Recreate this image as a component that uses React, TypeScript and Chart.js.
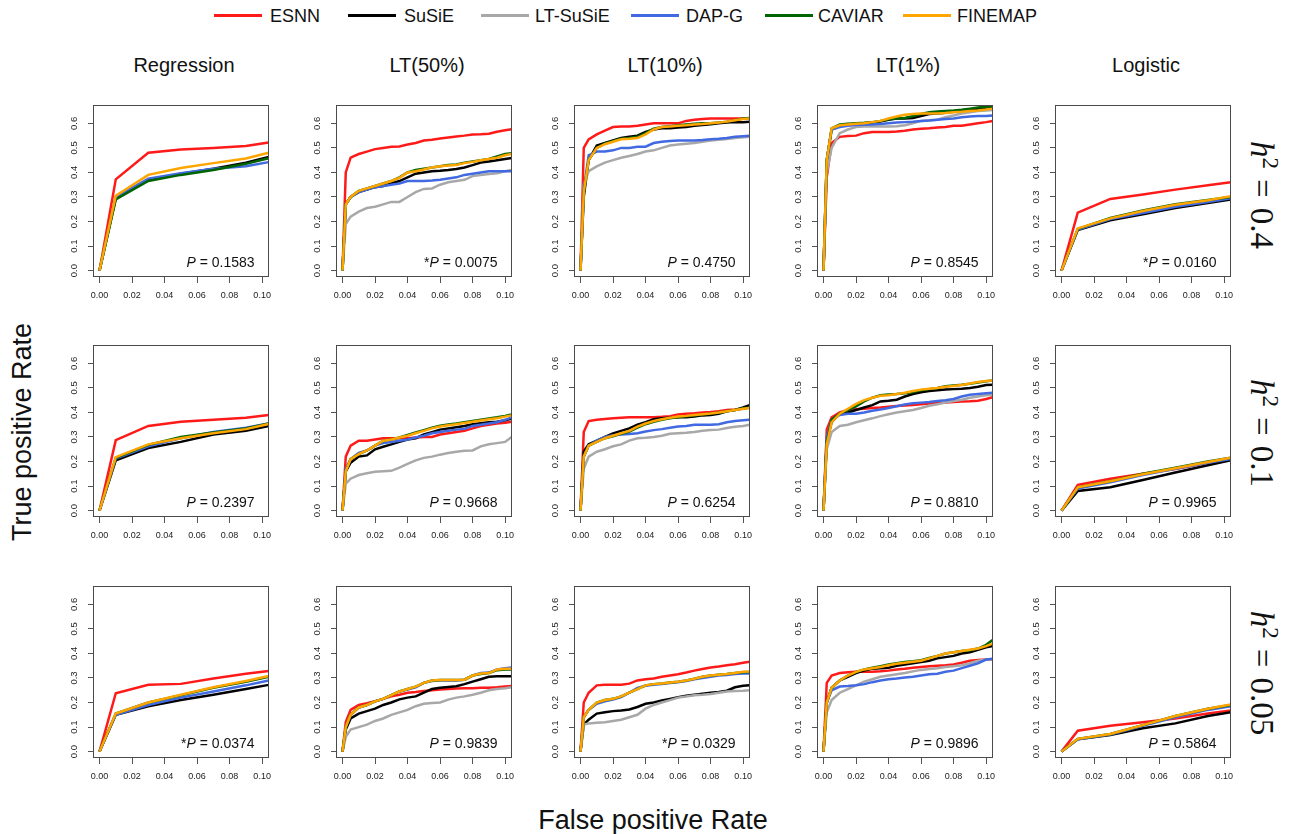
import React, { useEffect, useRef } from "react";
import { Chart, registerables } from "chart.js";
Chart.register(...registerables);

// ---------- data ----------
const methods = ["ESNN", "SuSiE", "LT-SuSiE", "DAP-G", "CAVIAR", "FINEMAP"];
const methodColors = ["#ff1a1a", "#000000", "#a8a8a8", "#4169e1", "#006400", "#ffa500"];
const columnTitles = ["Regression", "LT(50%)", "LT(10%)", "LT(1%)", "Logistic"];
const heritabilities = ["0.4", "0.1", "0.05"];
const xTickValues = [0, 0.02, 0.04, 0.06, 0.08, 0.1];
const yTickValues = [0, 0.1, 0.2, 0.3, 0.4, 0.5, 0.6];
const fprCoarse = [0, 0.01, 0.03, 0.05, 0.07, 0.09, 0.104];
const fprFine = [0, 0.002, 0.005, 0.01, 0.015, 0.02, 0.025, 0.03, 0.035, 0.04, 0.045, 0.05, 0.055, 0.06, 0.065, 0.07, 0.075, 0.08, 0.085, 0.09, 0.095, 0.1, 0.104];
const pValueText = [
  ["0.1583", "0.0075", "0.4750", "0.8545", "0.0160"],
  ["0.2397", "0.9668", "0.6254", "0.8810", "0.9965"],
  ["0.0374", "0.9839", "0.0329", "0.9896", "0.5864"],
];
const pSignificant = [
  [false, true, false, false, true],
  [false, false, false, false, false],
  [true, false, true, false, false],
];

// series order: ESNN, SuSiE, LT-SuSiE, DAP-G, CAVIAR, FINEMAP
const tpr_h04_regression = [
  [0, 0.372, 0.48, 0.493, 0.5, 0.508, 0.522],
  [0, 0.295, 0.37, 0.395, 0.415, 0.44, 0.463],
  [],
  [0, 0.3, 0.375, 0.397, 0.415, 0.425, 0.442],
  [0, 0.29, 0.365, 0.39, 0.41, 0.435, 0.458],
  [0, 0.305, 0.39, 0.418, 0.438, 0.457, 0.48],
];
const tpr_h04_lt50 = [
  [0, 0.4, 0.46, 0.475, 0.485, 0.495, 0.5, 0.505, 0.506, 0.514, 0.52, 0.53, 0.533, 0.538, 0.542, 0.546, 0.55, 0.555, 0.556, 0.558, 0.566, 0.572, 0.576],
  [0, 0.27, 0.3, 0.32, 0.33, 0.34, 0.345, 0.355, 0.365, 0.38, 0.395, 0.4, 0.405, 0.407, 0.41, 0.414, 0.42, 0.43, 0.44, 0.445, 0.45, 0.455, 0.459],
  [0, 0.19, 0.22, 0.24, 0.255, 0.26, 0.27, 0.28, 0.28, 0.3, 0.32, 0.333, 0.335, 0.35, 0.36, 0.365, 0.37, 0.385, 0.39, 0.394, 0.397, 0.405, 0.41],
  [0, 0.27, 0.3, 0.32, 0.33, 0.34, 0.345, 0.35, 0.355, 0.365, 0.365, 0.365, 0.367, 0.37, 0.375, 0.38, 0.39, 0.395, 0.4, 0.405, 0.405, 0.405, 0.405],
  [0, 0.27, 0.3, 0.325, 0.335, 0.345, 0.355, 0.365, 0.38, 0.4, 0.41, 0.415, 0.42, 0.425, 0.43, 0.432, 0.44, 0.445, 0.45, 0.455, 0.465, 0.475, 0.478],
  [0, 0.27, 0.3, 0.325, 0.335, 0.345, 0.355, 0.365, 0.378, 0.4, 0.405, 0.412, 0.42, 0.425, 0.428, 0.43, 0.438, 0.443, 0.45, 0.455, 0.46, 0.47, 0.475],
];
const tpr_h04_lt10 = [
  [0, 0.5, 0.535, 0.555, 0.57, 0.585, 0.587, 0.587, 0.59, 0.595, 0.6, 0.6, 0.6, 0.6, 0.61, 0.615, 0.618, 0.62, 0.62, 0.62, 0.62, 0.62, 0.62],
  [0, 0.3, 0.45, 0.51, 0.52, 0.53, 0.54, 0.545, 0.55, 0.565, 0.575, 0.58, 0.58, 0.583, 0.585, 0.59, 0.593, 0.596, 0.6, 0.603, 0.605, 0.605, 0.607],
  [0, 0.35, 0.405, 0.425, 0.44, 0.45, 0.46, 0.467, 0.475, 0.485, 0.49, 0.5, 0.51, 0.514, 0.517, 0.52, 0.525, 0.53, 0.533, 0.536, 0.54, 0.543, 0.545],
  [0, 0.33, 0.47, 0.485, 0.485, 0.49, 0.5, 0.5, 0.505, 0.505, 0.52, 0.525, 0.528, 0.53, 0.53, 0.53, 0.532, 0.535, 0.537, 0.54, 0.545, 0.547, 0.549],
  [0, 0.32, 0.45, 0.5, 0.517, 0.528, 0.537, 0.54, 0.545, 0.56, 0.578, 0.585, 0.588, 0.592, 0.595, 0.598, 0.6, 0.6, 0.603, 0.607, 0.613, 0.62, 0.622],
  [0, 0.32, 0.45, 0.5, 0.515, 0.525, 0.535, 0.537, 0.54, 0.555, 0.575, 0.585, 0.587, 0.59, 0.592, 0.595, 0.597, 0.6, 0.603, 0.607, 0.613, 0.618, 0.62],
];
const tpr_h04_lt1 = [
  [0, 0.38, 0.52, 0.545, 0.548, 0.55, 0.56, 0.565, 0.565, 0.565, 0.567, 0.57, 0.575, 0.578, 0.58, 0.583, 0.585, 0.59, 0.59, 0.595, 0.6, 0.605, 0.61],
  [0, 0.45, 0.575, 0.59, 0.595, 0.598, 0.6, 0.603, 0.607, 0.615, 0.62, 0.62, 0.622, 0.63, 0.638, 0.64, 0.643, 0.647, 0.65, 0.655, 0.66, 0.665, 0.667],
  [0, 0.4, 0.5, 0.56, 0.575, 0.585, 0.587, 0.587, 0.587, 0.587, 0.588, 0.592, 0.6, 0.61, 0.613, 0.615, 0.625, 0.632, 0.64, 0.645, 0.65, 0.652, 0.654],
  [0, 0.45, 0.575, 0.585, 0.59, 0.593, 0.594, 0.595, 0.597, 0.6, 0.603, 0.605, 0.607, 0.61, 0.612, 0.615, 0.618, 0.62, 0.625, 0.628, 0.63, 0.63, 0.632],
  [0, 0.45, 0.58, 0.595, 0.598, 0.6, 0.602, 0.605, 0.61, 0.617, 0.62, 0.622, 0.63, 0.638, 0.645, 0.648, 0.65, 0.652, 0.655, 0.66, 0.665, 0.668, 0.67],
  [0, 0.45, 0.58, 0.592, 0.595, 0.598, 0.6, 0.605, 0.61, 0.62, 0.628, 0.635, 0.638, 0.64, 0.64, 0.64, 0.642, 0.645, 0.647, 0.65, 0.652, 0.656, 0.66],
];
const tpr_h04_logistic = [
  [0, 0.236, 0.292, 0.31, 0.33, 0.348, 0.36],
  [0, 0.165, 0.205, 0.23, 0.255, 0.275, 0.29],
  [],
  [0, 0.167, 0.21, 0.235, 0.26, 0.28, 0.295],
  [0, 0.17, 0.215, 0.245, 0.27, 0.288, 0.3],
  [0, 0.172, 0.213, 0.243, 0.268, 0.287, 0.303],
];
const tpr_h01_regression = [
  [0, 0.287, 0.345, 0.362, 0.37, 0.378, 0.39],
  [0, 0.205, 0.255, 0.28, 0.31, 0.325, 0.345],
  [],
  [0, 0.212, 0.262, 0.295, 0.32, 0.338, 0.355],
  [0, 0.215, 0.268, 0.3, 0.318, 0.335, 0.355],
  [0, 0.218, 0.27, 0.295, 0.315, 0.332, 0.353],
];
const tpr_h01_lt50 = [
  [0, 0.22, 0.265, 0.285, 0.285, 0.29, 0.295, 0.295, 0.295, 0.295, 0.298, 0.3, 0.3, 0.31, 0.315, 0.32, 0.325, 0.335, 0.345, 0.35, 0.355, 0.358, 0.362],
  [0, 0.16, 0.195, 0.22, 0.225, 0.25, 0.26, 0.27, 0.28, 0.29, 0.295, 0.31, 0.32, 0.33, 0.335, 0.34, 0.345, 0.352, 0.356, 0.36, 0.362, 0.368, 0.375],
  [0, 0.11, 0.13, 0.145, 0.152, 0.158, 0.16, 0.162, 0.175, 0.19, 0.205, 0.215, 0.22, 0.228, 0.235, 0.24, 0.244, 0.245, 0.262, 0.27, 0.275, 0.28, 0.3],
  [0, 0.17, 0.21, 0.235, 0.245, 0.265, 0.275, 0.28, 0.285, 0.29, 0.298, 0.305, 0.315, 0.32, 0.325, 0.33, 0.333, 0.345, 0.35, 0.355, 0.36, 0.37, 0.38],
  [0, 0.16, 0.21, 0.23, 0.245, 0.265, 0.285, 0.29, 0.298, 0.308, 0.318, 0.328, 0.338, 0.346, 0.351, 0.355, 0.36, 0.365, 0.37, 0.375, 0.38, 0.386, 0.392],
  [0, 0.16, 0.21, 0.23, 0.245, 0.265, 0.285, 0.29, 0.298, 0.305, 0.315, 0.325, 0.335, 0.343, 0.348, 0.352, 0.357, 0.362, 0.367, 0.372, 0.376, 0.383, 0.388],
];
const tpr_h01_lt10 = [
  [0, 0.32, 0.365, 0.37, 0.373, 0.376, 0.378, 0.38, 0.38, 0.38, 0.38, 0.382, 0.385, 0.392, 0.395, 0.397, 0.4, 0.402, 0.405, 0.41, 0.412, 0.415, 0.42],
  [0, 0.24, 0.27, 0.285, 0.3, 0.315, 0.325, 0.335, 0.35, 0.36, 0.372, 0.376, 0.378, 0.38, 0.38, 0.383, 0.388, 0.39, 0.395, 0.405, 0.41, 0.42, 0.43],
  [0, 0.17, 0.22, 0.24, 0.25, 0.262, 0.27, 0.285, 0.295, 0.297, 0.3, 0.305, 0.313, 0.315, 0.317, 0.32, 0.325, 0.328, 0.33, 0.337, 0.342, 0.345, 0.35],
  [0, 0.22, 0.265, 0.285, 0.3, 0.307, 0.31, 0.312, 0.315, 0.322, 0.328, 0.332, 0.338, 0.343, 0.345, 0.35, 0.35, 0.35, 0.352, 0.36, 0.365, 0.368, 0.37],
  [0, 0.22, 0.265, 0.28, 0.295, 0.303, 0.313, 0.322, 0.338, 0.352, 0.362, 0.37, 0.376, 0.38, 0.384, 0.388, 0.392, 0.396, 0.4, 0.405, 0.41, 0.417, 0.42],
  [0, 0.22, 0.265, 0.28, 0.295, 0.305, 0.315, 0.325, 0.342, 0.355, 0.365, 0.372, 0.378, 0.383, 0.386, 0.39, 0.393, 0.396, 0.4, 0.405, 0.41, 0.415, 0.418],
];
const tpr_h01_lt1 = [
  [0, 0.33, 0.38, 0.4, 0.41, 0.413, 0.415, 0.418, 0.42, 0.423, 0.426, 0.428, 0.43, 0.433, 0.436, 0.438, 0.44, 0.443, 0.445, 0.446, 0.448, 0.455, 0.462],
  [0, 0.28, 0.36, 0.395, 0.4, 0.41, 0.42, 0.43, 0.445, 0.448, 0.452, 0.465, 0.475, 0.482, 0.487, 0.49, 0.493, 0.495, 0.497, 0.5, 0.505, 0.512, 0.513],
  [0, 0.25, 0.32, 0.345, 0.35, 0.36, 0.368, 0.376, 0.385, 0.393, 0.4, 0.405, 0.41, 0.418, 0.427, 0.433, 0.44, 0.447, 0.452, 0.46, 0.465, 0.47, 0.472],
  [0, 0.3, 0.37, 0.39, 0.395, 0.395, 0.4, 0.407, 0.412, 0.418, 0.425, 0.432, 0.437, 0.44, 0.443, 0.447, 0.45, 0.455, 0.465, 0.472, 0.475, 0.478, 0.48],
  [0, 0.28, 0.37, 0.395, 0.41, 0.425, 0.445, 0.46, 0.47, 0.473, 0.475, 0.478, 0.483, 0.49, 0.495, 0.5, 0.507, 0.51, 0.513, 0.517, 0.522, 0.527, 0.53],
  [0, 0.27, 0.36, 0.395, 0.415, 0.435, 0.45, 0.46, 0.468, 0.47, 0.475, 0.48, 0.487, 0.493, 0.497, 0.5, 0.505, 0.508, 0.512, 0.518, 0.524, 0.528, 0.53],
];
const tpr_h01_logistic = [
  [0, 0.105, 0.13, 0.15, 0.17, 0.195, 0.21],
  [0, 0.08, 0.095, 0.125, 0.155, 0.185, 0.205],
  [],
  [0, 0.09, 0.115, 0.145, 0.17, 0.195, 0.21],
  [0, 0.095, 0.12, 0.15, 0.175, 0.2, 0.215],
  [0, 0.095, 0.12, 0.148, 0.173, 0.198, 0.215],
];
const tpr_h005_regression = [
  [0, 0.238, 0.272, 0.276, 0.298, 0.317, 0.328],
  [0, 0.15, 0.185, 0.21, 0.232, 0.255, 0.272],
  [],
  [0, 0.15, 0.19, 0.22, 0.245, 0.27, 0.29],
  [0, 0.155, 0.2, 0.23, 0.26, 0.285, 0.305],
  [0, 0.155, 0.2, 0.232, 0.262, 0.288, 0.308],
];
const tpr_h005_lt50 = [
  [0, 0.12, 0.17, 0.19, 0.197, 0.205, 0.215, 0.225, 0.232, 0.24, 0.243, 0.247, 0.25, 0.253, 0.255, 0.257, 0.258, 0.258, 0.26, 0.26, 0.262, 0.265, 0.267],
  [0, 0.09, 0.135, 0.155, 0.165, 0.175, 0.19, 0.2, 0.213, 0.22, 0.225, 0.24, 0.255, 0.26, 0.263, 0.266, 0.275, 0.285, 0.295, 0.305, 0.307, 0.307, 0.307],
  [0, 0.06, 0.09, 0.1, 0.11, 0.125, 0.135, 0.15, 0.16, 0.17, 0.185, 0.195, 0.198, 0.2, 0.212, 0.22, 0.225, 0.232, 0.24, 0.25, 0.255, 0.258, 0.262],
  [0, 0.1, 0.15, 0.18, 0.19, 0.205, 0.215, 0.23, 0.245, 0.253, 0.262, 0.28, 0.288, 0.29, 0.29, 0.29, 0.293, 0.31, 0.32, 0.322, 0.335, 0.34, 0.343],
  [0, 0.1, 0.15, 0.18, 0.19, 0.205, 0.215, 0.23, 0.245, 0.255, 0.265, 0.28, 0.29, 0.292, 0.292, 0.292, 0.293, 0.31, 0.316, 0.32, 0.332, 0.335, 0.335],
  [0, 0.1, 0.15, 0.18, 0.19, 0.205, 0.215, 0.23, 0.245, 0.255, 0.265, 0.28, 0.29, 0.292, 0.292, 0.292, 0.293, 0.31, 0.318, 0.32, 0.335, 0.338, 0.338],
];
const tpr_h005_lt10 = [
  [0, 0.2, 0.24, 0.27, 0.272, 0.272, 0.272, 0.277, 0.29, 0.295, 0.298, 0.305, 0.31, 0.315, 0.322, 0.33, 0.337, 0.343, 0.347, 0.352, 0.356, 0.362, 0.366],
  [0, 0.11, 0.13, 0.155, 0.16, 0.165, 0.168, 0.172, 0.182, 0.195, 0.2, 0.208, 0.215, 0.222, 0.228, 0.232, 0.236, 0.24, 0.243, 0.248, 0.262, 0.268, 0.27],
  [0, 0.11, 0.115, 0.118, 0.12, 0.125, 0.13, 0.14, 0.15, 0.175, 0.19, 0.2, 0.21, 0.22, 0.225, 0.23, 0.232, 0.235, 0.24, 0.245, 0.247, 0.248, 0.25],
  [0, 0.14, 0.17, 0.195, 0.205, 0.212, 0.222, 0.24, 0.26, 0.268, 0.272, 0.275, 0.28, 0.283, 0.288, 0.295, 0.3, 0.305, 0.31, 0.312, 0.316, 0.318, 0.318],
  [0, 0.14, 0.17, 0.2, 0.21, 0.215, 0.225, 0.24, 0.255, 0.27, 0.275, 0.278, 0.282, 0.285, 0.29, 0.297, 0.305, 0.31, 0.313, 0.316, 0.32, 0.323, 0.324],
  [0, 0.14, 0.17, 0.2, 0.21, 0.215, 0.225, 0.24, 0.255, 0.27, 0.275, 0.278, 0.282, 0.285, 0.29, 0.297, 0.305, 0.31, 0.313, 0.316, 0.32, 0.325, 0.326],
];
const tpr_h005_lt1 = [
  [0, 0.28, 0.31, 0.32, 0.323, 0.325, 0.325, 0.325, 0.327, 0.33, 0.335, 0.338, 0.342, 0.345, 0.348, 0.35, 0.352, 0.355, 0.362, 0.37, 0.373, 0.375, 0.375],
  [0, 0.2, 0.26, 0.29, 0.305, 0.32, 0.33, 0.338, 0.34, 0.342, 0.35, 0.355, 0.36, 0.365, 0.37, 0.38, 0.385, 0.39, 0.4, 0.405, 0.415, 0.425, 0.43],
  [0, 0.16, 0.21, 0.24, 0.255, 0.27, 0.285, 0.295, 0.305, 0.31, 0.315, 0.32, 0.327, 0.333, 0.337, 0.34, 0.345, 0.348, 0.352, 0.36, 0.37, 0.375, 0.375],
  [0, 0.2, 0.25, 0.265, 0.267, 0.27, 0.275, 0.283, 0.29, 0.295, 0.298, 0.302, 0.305, 0.31, 0.315, 0.317, 0.325, 0.33, 0.34, 0.35, 0.36, 0.375, 0.378],
  [0, 0.2, 0.26, 0.29, 0.31, 0.325, 0.335, 0.342, 0.348, 0.355, 0.36, 0.365, 0.368, 0.372, 0.382, 0.39, 0.4, 0.405, 0.41, 0.413, 0.42, 0.435, 0.455],
  [0, 0.2, 0.26, 0.29, 0.31, 0.325, 0.335, 0.34, 0.345, 0.352, 0.358, 0.362, 0.366, 0.37, 0.38, 0.39, 0.4, 0.405, 0.41, 0.415, 0.42, 0.43, 0.44],
];
const tpr_h005_logistic = [
  [0, 0.085, 0.105, 0.12, 0.135, 0.155, 0.168],
  [0, 0.05, 0.068, 0.095, 0.115, 0.145, 0.16],
  [],
  [0, 0.05, 0.07, 0.105, 0.14, 0.17, 0.185],
  [0, 0.052, 0.072, 0.108, 0.145, 0.175, 0.19],
  [0, 0.052, 0.072, 0.108, 0.145, 0.175, 0.192],
];

const panelRows = [
  [tpr_h04_regression, tpr_h04_lt50, tpr_h04_lt10, tpr_h04_lt1, tpr_h04_logistic],
  [tpr_h01_regression, tpr_h01_lt50, tpr_h01_lt10, tpr_h01_lt1, tpr_h01_logistic],
  [tpr_h005_regression, tpr_h005_lt50, tpr_h005_lt10, tpr_h005_lt1, tpr_h005_logistic],
];
const columnFpr = [fprCoarse, fprFine, fprFine, fprFine, fprCoarse];

// ---------- layout ----------
const SANS = '"Liberation Sans", Arial, Helvetica, sans-serif';
const SERIF = '"Liberation Serif", "DejaVu Serif", "Times New Roman", serif';
const boxLefts = [93, 336, 574, 817, 1055];
const boxTops = [94, 334, 575];
const BOX_W = 182;
const BOX_H = 183;
const Y_AXIS_W = 34;
const X_AXIS_H = 30;
const PAD_TOP = 2;
const PAD_RIGHT = 3;

const framePlugin = {
  id: "frame",
  afterDraw(chart: any, _args: any, opts: any) {
    const { ctx, chartArea: a } = chart;
    ctx.save();
    ctx.strokeStyle = "#4a4a4a";
    ctx.lineWidth = 1;
    ctx.strokeRect(Math.round(a.left) + 0.5, Math.round(a.top) + 0.5, Math.round(a.right - a.left) - 1, Math.round(a.bottom - a.top) - 1);
    // P-value annotation
    const normal = `14px ${SANS}`;
    const italic = `italic 14px ${SANS}`;
    const star = opts.star ? "*" : "";
    const rest = " = " + opts.p;
    ctx.font = normal;
    const wStar = ctx.measureText(star).width;
    const wRest = ctx.measureText(rest).width;
    ctx.font = italic;
    const wP = ctx.measureText("P").width;
    let x = a.right - 14 - (wStar + wP + wRest);
    const y = a.bottom - 10;
    ctx.fillStyle = "#111";
    ctx.textBaseline = "alphabetic";
    ctx.textAlign = "left";
    if (star) {
      ctx.font = normal;
      ctx.fillText(star, x, y);
      x += wStar;
    }
    ctx.font = italic;
    ctx.fillText("P", x, y);
    x += wP;
    ctx.font = normal;
    ctx.fillText(rest, x, y);
    ctx.restore();
  },
};

function Panel({ row, col }: { row: number; col: number }) {
  const ref = useRef<HTMLCanvasElement | null>(null);
  useEffect(() => {
    const canvas = ref.current;
    if (!canvas) return;
    const series = panelRows[row][col];
    const xs = columnFpr[col];
    const datasets = methods.map((m, i) => ({
      label: m,
      data: series[i].map((v: number, k: number) => ({ x: xs[k], y: v })),
      borderColor: methodColors[i],
      backgroundColor: methodColors[i],
      borderWidth: 2.5,
      pointRadius: 0,
      tension: 0,
      fill: false,
      order: methods.length - i,
    }));
    const chart = new Chart(canvas, {
      type: "line",
      data: { datasets },
      options: {
        animation: false,
        responsive: false,
        maintainAspectRatio: false,
        events: [],
        layout: { padding: { top: PAD_TOP, right: PAD_RIGHT, left: 0, bottom: 0 } },
        plugins: {
          legend: { display: false },
          tooltip: { enabled: false },
          frame: { p: pValueText[row][col], star: pSignificant[row][col] },
        } as any,
        scales: {
          x: {
            type: "linear",
            min: -0.004,
            max: 0.104,
            afterBuildTicks: (s: any) => {
              s.ticks = xTickValues.map((v) => ({ value: v }));
            },
            afterFit: (s: any) => {
              s.height = X_AXIS_H;
            },
            grid: { drawOnChartArea: false, drawTicks: true, tickLength: 6, color: "#555", lineWidth: 1 },
            border: { display: false },
            ticks: {
              autoSkip: false,
              maxRotation: 0,
              minRotation: 0,
              padding: 7,
              color: "#222",
              font: { size: 9, family: SANS },
              callback: (v: any) => Number(v).toFixed(2),
            },
          },
          y: {
            type: "linear",
            min: -0.026,
            max: 0.676,
            afterBuildTicks: (s: any) => {
              s.ticks = yTickValues.map((v) => ({ value: v }));
            },
            afterFit: (s: any) => {
              s.width = Y_AXIS_W;
            },
            grid: { drawOnChartArea: false, drawTicks: true, tickLength: 5, color: "#555", lineWidth: 1 },
            border: { display: false },
            ticks: {
              autoSkip: false,
              minRotation: 90,
              maxRotation: 90,
              crossAlign: "center",
              padding: 7,
              color: "#222",
              font: { size: 9.5, family: SANS },
              callback: (v: any) => Number(v).toFixed(1),
            },
          },
        },
      } as any,
      plugins: [framePlugin as any],
    });
    return () => chart.destroy();
  }, [row, col]);
  const w = Y_AXIS_W + BOX_W + PAD_RIGHT;
  const h = PAD_TOP + BOX_H + X_AXIS_H;
  return (
    <canvas
      ref={ref}
      width={w}
      height={h}
      style={{ position: "absolute", left: boxLefts[col] - Y_AXIS_W, top: boxTops[row] - PAD_TOP, width: w, height: h }}
    />
  );
}

const legendLineLefts = [214, 348, 481, 631, 765, 903];
const legendTextLefts = [270, 404, 535, 686, 818, 957];
const hLabelCenters = [195, 433, 673];

export default function App() {
  return (
    <div style={{ position: "absolute", left: 0, top: 0, width: 1289, height: 834, background: "#fff", fontFamily: SANS, color: "#111", overflow: "hidden" }}>
      {methods.map((m, i) => (
        <React.Fragment key={m}>
          <div style={{ position: "absolute", left: legendLineLefts[i], top: 14, width: 48, height: 3, background: methodColors[i] }} />
          <div style={{ position: "absolute", left: legendTextLefts[i], top: 5, fontSize: 18, lineHeight: "22px", whiteSpace: "nowrap" }}>{m}</div>
        </React.Fragment>
      ))}
      {columnTitles.map((t, c) => (
        <div key={t} style={{ position: "absolute", left: boxLefts[c], width: BOX_W, top: 52, fontSize: 20, lineHeight: "26px", textAlign: "center", whiteSpace: "nowrap" }}>{t}</div>
      ))}
      {heritabilities.map((hv, r) => (
        <div
          key={hv}
          style={{
            position: "absolute",
            left: 1262 - 100,
            width: 200,
            top: hLabelCenters[r] - 20,
            height: 40,
            lineHeight: "40px",
            textAlign: "center",
            fontFamily: SERIF,
            fontSize: 33,
            transform: "rotate(90deg)",
            whiteSpace: "nowrap",
          }}
        >
          <i>h</i>
          <sup style={{ fontSize: 23, verticalAlign: "0.5em", lineHeight: 0 }}>2</sup>
          <span style={{ margin: "0 10px" }}>=</span>
          {hv}
        </div>
      ))}
      <div style={{ position: "absolute", left: 22 - 200, width: 400, top: 432 - 17, height: 34, lineHeight: "34px", textAlign: "center", fontSize: 27, transform: "rotate(-90deg)", whiteSpace: "nowrap" }}>
        True positive Rate
      </div>
      <div style={{ position: "absolute", left: 653 - 200, width: 400, top: 820 - 17, height: 34, lineHeight: "34px", textAlign: "center", fontSize: 27, whiteSpace: "nowrap" }}>
        False positive Rate
      </div>
      {panelRows.map((rowPanels, r) => rowPanels.map((_p, c) => <Panel key={`${r}-${c}`} row={r} col={c} />))}
    </div>
  );
}
